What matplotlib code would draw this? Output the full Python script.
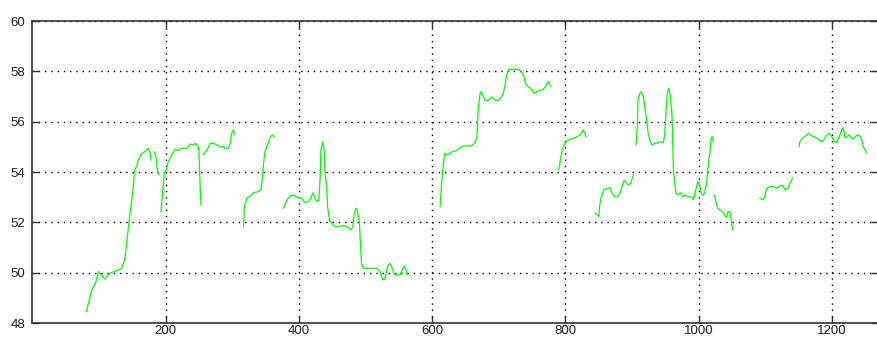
import numpy as np
import matplotlib.pyplot as plt

# segmentos da série (gaps entre eles)
seg1_x = [81, 89, 95, 99, 109, 116, 129, 134, 139, 145, 151, 153, 157, 159, 164, 169, 174, 177, 178]
seg1_y = [48.45, 49.3, 49.6, 50.04, 49.74, 49.98, 50.1, 50.17, 50.57, 52.03, 53.29, 54.01, 54.28, 54.48,
          54.74, 54.81, 54.94, 54.74, 54.48]

seg2_x = [182, 185, 188, 190]
seg2_y = [54.8, 54.7, 54.0, 53.9]

seg3_x = [193, 196, 198, 201, 204, 209, 214, 219, 224, 232, 237, 241, 245, 249, 250, 252, 253]
seg3_y = [52.42, 53.35, 53.95, 54.08, 54.41, 54.68, 54.9, 54.85, 54.94, 54.94, 55.11, 55.07, 55.14,
          55.01, 54.81, 53.29, 52.69]

seg4_x = [256, 262, 267, 272, 277, 282, 287, 289, 294, 297, 299, 302, 303]
seg4_y = [54.68, 54.87, 55.14, 55.14, 55.07, 54.98, 55.03, 54.94, 54.94, 55.14, 55.54, 55.67, 55.47]

seg5_x = [317, 318, 322, 327, 332, 339, 343, 345, 347, 349, 353, 357, 360, 363]
seg5_y = [51.83, 52.62, 52.96, 53.05, 53.18, 53.22, 53.29, 53.68, 54.35, 54.81, 55.07, 55.4, 55.47, 55.4]

seg6_x = [377, 382, 387, 392, 397, 404, 409, 414, 418, 421, 424, 427, 430, 432, 433, 436, 438, 439,
          442, 443, 446, 449, 454, 459, 464, 469, 474, 478, 481, 483, 486, 488, 489, 491, 492, 494,
          497, 517, 522, 526, 529, 533, 537, 540, 544, 552, 555, 558, 561, 562]
seg6_y = [52.56, 52.89, 53.05, 53.09, 53.0, 52.96, 52.78, 52.82, 52.96, 53.18, 52.96, 52.82, 52.89,
          53.81, 54.87, 55.2, 54.87, 54.08, 53.29, 52.62, 52.09, 51.96, 51.83, 51.83, 51.86, 51.86,
          51.8, 51.7, 51.83, 52.36, 52.56, 52.46, 52.23, 51.96, 51.37, 50.37, 50.17, 50.17, 50.04,
          49.71, 49.74, 50.24, 50.37, 50.17, 49.91, 49.91, 50.11, 50.27, 50.11, 49.91]

seg7_x = [612, 614, 617, 619, 622, 627, 630, 637, 642, 647, 659, 663, 667, 668, 669, 672, 674, 677,
          679, 684, 689, 694, 699, 703, 707, 709, 712, 715, 724, 729, 734, 738, 740, 744, 748, 753,
          757, 762, 767, 771, 774, 778]
seg7_y = [52.62, 53.48, 54.35, 54.74, 54.68, 54.72, 54.81, 54.85, 54.97, 55.03, 55.03, 55.14, 55.34,
          55.74, 56.46, 57.13, 57.19, 56.99, 56.86, 56.83, 56.99, 56.86, 56.83, 56.93, 57.13, 57.39,
          57.85, 58.08, 58.08, 58.08, 57.99, 57.79, 57.52, 57.39, 57.33, 57.13, 57.19, 57.23, 57.29,
          57.42, 57.59, 57.42]

seg8_x = [790, 793, 795, 799, 804, 812, 817, 822, 827, 829, 831]
seg8_y = [54.08, 54.55, 54.87, 55.14, 55.27, 55.34, 55.4, 55.47, 55.67, 55.56, 55.4]

seg9_x = [845, 848, 850, 852, 854, 858, 863, 867, 870, 874, 878, 882, 886, 888, 892, 895, 898, 902]
seg9_y = [52.36, 52.29, 52.23, 52.76, 53.02, 53.29, 53.35, 53.38, 53.15, 53.02, 53.0, 53.15, 53.48,
          53.68, 53.55, 53.48, 53.55, 53.88]

seg10_x = [906, 908, 909, 912, 914, 917, 919, 922, 924, 927, 930, 934, 937, 942, 947, 949, 951, 953,
           955, 957, 960, 961, 962, 963, 966, 969, 973, 976, 979, 984, 990, 992, 994, 997, 999,
           1002, 1005, 1007, 1009, 1012, 1014, 1017, 1019, 1020, 1021, 1022]
seg10_y = [55.07, 55.8, 56.93, 57.13, 57.19, 56.99, 56.6, 56.07, 55.6, 55.24, 55.07, 55.14, 55.14,
           55.2, 55.16, 55.47, 56.33, 57.13, 57.33, 57.13, 56.33, 55.27, 54.21, 53.81, 53.15, 53.09,
           53.18, 53.02, 53.09, 53.02, 53.0, 52.89, 53.09, 53.42, 53.62, 53.42, 53.09, 53.09, 53.15,
           53.55, 54.15, 54.81, 55.34, 55.4, 55.38, 55.2]

seg11_x = [1024, 1026, 1029, 1032, 1036, 1039, 1042, 1044, 1047, 1049, 1051]
seg11_y = [53.09, 52.82, 52.56, 52.49, 52.42, 52.29, 52.2, 52.42, 52.42, 52.09, 51.7]

seg12_x = [1092, 1097, 1100, 1102, 1107, 1112, 1117, 1122, 1125, 1127, 1130, 1134, 1137, 1141]
seg12_y = [52.96, 52.89, 53.09, 53.35, 53.42, 53.42, 53.35, 53.44, 53.48, 53.42, 53.29, 53.35,
           53.55, 53.75]

seg13_x = [1151, 1152, 1156, 1159, 1165, 1170, 1174, 1180, 1184, 1189, 1192, 1196, 1200, 1204, 1207,
           1211, 1215, 1217, 1220, 1222, 1226, 1230, 1232, 1235, 1238, 1242, 1245, 1247, 1250, 1252]
seg13_y = [55.01, 55.2, 55.34, 55.4, 55.54, 55.43, 55.4, 55.3, 55.2, 55.3, 55.47, 55.54, 55.4, 55.2,
           55.16, 55.4, 55.67, 55.78, 55.34, 55.4, 55.47, 55.34, 55.3, 55.4, 55.47, 55.43, 55.27,
           55.01, 54.87, 54.77]

xticks = [200, 400, 600, 800, 1000, 1200]
yticks = [48, 50, 52, 54, 56, 58, 60]

segs = [(seg1_x, seg1_y), (seg2_x, seg2_y), (seg3_x, seg3_y), (seg4_x, seg4_y), (seg5_x, seg5_y),
        (seg6_x, seg6_y), (seg7_x, seg7_y), (seg8_x, seg8_y), (seg9_x, seg9_y), (seg10_x, seg10_y),
        (seg11_x, seg11_y), (seg12_x, seg12_y), (seg13_x, seg13_y)]

plt.rcParams['font.family'] = ['Liberation Sans', 'DejaVu Sans']

fig = plt.figure(figsize=(8.77, 3.38), dpi=100)
ax = fig.add_axes([32.4 / 877, 15 / 338, (878.5 - 32.4) / 877, 302 / 338])

for sx, sy in segs:
    ax.plot(sx, sy, color='#00ff00', lw=0.9)

ax.set_xlim(0, 1270)
ax.set_ylim(48, 60)
ax.set_xticks(xticks)
ax.set_yticks(yticks)
ax.grid(True, color='black', linestyle=(0, (1, 3.5)), linewidth=1.0)
ax.tick_params(direction='in', length=5, width=1, top=True, right=True,
               labelsize=9.5, labelcolor='#222222', color='#333333')
ax.tick_params(axis='x', pad=1.5)
ax.tick_params(axis='y', pad=5)
for s in ax.spines.values():
    s.set_color('#333333')
    s.set_linewidth(1.2)

fig.savefig('out.png', dpi=100)
